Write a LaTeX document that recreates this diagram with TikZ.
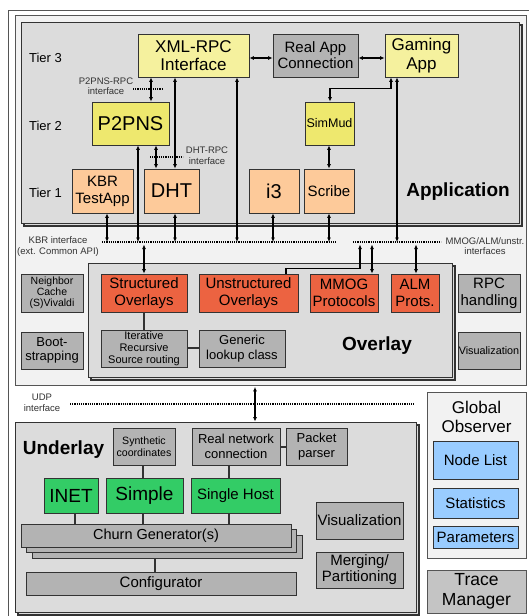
\documentclass[tikz,border=0pt]{standalone}
\usepackage{fontspec}
\setmainfont{Liberation Sans}
\usetikzlibrary{arrows.meta,calc}
\definecolor{linec}{HTML}{333333}
\definecolor{framec}{HTML}{555555}
\definecolor{framefill}{HTML}{F2F2F2}
\definecolor{regfill}{HTML}{DCDCDC}
\definecolor{boxgray}{HTML}{B3B3B3}
\definecolor{tracegray}{HTML}{C4C4C4}
\definecolor{ylight}{HTML}{F5F19E}
\definecolor{ystrong}{HTML}{EEE86E}
\definecolor{orlight}{HTML}{FDCA9A}
\definecolor{orred}{HTML}{EC6341}
\definecolor{greenb}{HTML}{33CC66}
\definecolor{blueb}{HTML}{99CCFF}
\definecolor{txtgray}{HTML}{333333}
\newcommand\myfs[2]{\fontsize{#1}{#2}\selectfont}
\tikzset{
  bx/.style={draw=linec, line width=0.8pt, inner sep=0pt, align=center, text=black},
  gbox/.style={bx, fill=boxgray},
  ybox/.style={bx, fill=ylight},
  yybox/.style={bx, fill=ystrong},
  obox/.style={bx, fill=orlight},
  rbox/.style={bx, fill=orred},
  grbox/.style={bx, fill=greenb},
  bbox/.style={bx, fill=blueb},
  region/.style={draw=linec, line width=0.9pt, fill=regfill, inner sep=0pt},
  shadowbox/.style={draw=linec, line width=1.2pt, fill=regfill},
  tipA/.tip={Latex[length=4.5pt,width=4pt]},
  dbl/.style={tipA-tipA, line width=1.1pt},
  sgl/.style={-tipA, line width=1.1pt},
  conn/.style={line width=1.1pt, draw=linec},
  dotline/.style={line width=1.1pt, dash pattern=on 1.1pt off 1.1pt},
  lbl/.style={font={\myfs{9.5}{10.5}}, text=txtgray, align=center, inner sep=0pt},
  tier/.style={font={\myfs{13}{15}}, inner sep=0pt},
  big/.style={font={\bfseries\myfs{19}{21}}, inner sep=0pt},
}
\begin{document}
\begin{tikzpicture}[x=1pt,y=-1pt]
\useasboundingbox (0,0) rectangle (529,616);
\clip (0,0) rectangle (529,616);
% outer frame
\draw[draw=framec, fill=white, line width=0.8pt] (8,10) rectangle (560,650);
% application/overlay frame
\node[draw=framec, line width=0.8pt, fill=framefill, minimum width=511pt, minimum height=370pt, inner sep=0pt] (appframe) at (270.5,200) {};
% Application region
\draw[shadowbox] (24,25) rectangle (522,226);
\node[region, minimum width=498pt, minimum height=201pt] (app) at (270,122.5) {};
\node[big] (applbl) at (458,192) {Application};
\node[tier] (t3) at (45.5,58) {Tier 3};
\node[tier] (t2) at (45.5,126) {Tier 2};
\node[tier] (t1) at (45.5,193) {Tier 1};

\node[ybox, minimum width=111pt, minimum height=43pt, font={\myfs{17}{18}}] (xml) at (193.5,55.5) {XML-RPC\\Interface};
\node[gbox, minimum width=85pt, minimum height=43pt, font={\myfs{15}{16}}] (realapp) at (315.5,55.5) {Real App\\Connection};
\node[ybox, minimum width=73pt, minimum height=43pt, font={\myfs{17}{19}}] (gaming) at (421.5,55.5) {Gaming\\App};
\node[yybox, minimum width=77pt, minimum height=43pt, font={\myfs{20}{22}}] (p2pns) at (130.5,123.5) {P2PNS};
\node[yybox, minimum width=49pt, minimum height=43pt, font={\myfs{12.5}{14}}] (simmud) at (329.5,123.5) {SimMud};
\node[obox, minimum width=61pt, minimum height=44pt, font={\myfs{15}{17}}] (kbrtest) at (102.5,191) {KBR\\TestApp};
\node[obox, minimum width=55pt, minimum height=44pt, font={\myfs{20}{22}}] (dht) at (171.5,191) {DHT};
\node[obox, minimum width=50pt, minimum height=44pt, font={\myfs{20}{22}}] (i3) at (274,191) {i3};
\node[obox, minimum width=50pt, minimum height=44pt, font={\myfs{15}{17}}] (scribe) at (329,191) {Scribe};

\node[lbl] (p2pnsrpc) at (106,86) {P2PNS-RPC\\interface};
\node[lbl] (dhtrpc) at (207,155.5) {DHT-RPC\\interface};
\node[lbl] (kbrlbl) at (58,246.5) {KBR interface\\(ext. Common API)};
\node[lbl] (mmoglbl) at (485,246) {MMOG/ALM/unstr.\\interfaces};
\node[lbl] (udplbl) at (42,403) {UDP\\interface};

% interface dotted lines
\coordinate (p2a) at (133,89);
\coordinate (p2b) at (162,89);
\draw[dotline] (p2a) -- (p2b);
\coordinate (dha) at (150,157);
\coordinate (dhb) at (183,157);
\draw[dotline] (dha) -- (dhb);
\coordinate (kbrA) at (102,242);
\coordinate (kbrB) at (336,242);
\draw[dotline] (kbrA) -- (kbrB);
\coordinate (mmA) at (353,242);
\coordinate (mmB) at (441,242);
\draw[dotline] (mmA) -- (mmB);
\coordinate (udpA) at (70,404);
\coordinate (udpB) at (414,404);
\draw[dotline] (udpA) -- (udpB);

% Overlay region
\draw[shadowbox] (91,266) rectangle (455,380);
\node[region, minimum width=364pt, minimum height=114pt] (overlay) at (270,320) {};
\node[big] (overlaylbl) at (377,346) {Overlay};
\node[rbox, minimum width=86pt, minimum height=38pt, font={\myfs{15}{17}}] (struct) at (144,293) {Structured\\Overlays};
\node[rbox, minimum width=99pt, minimum height=38pt, font={\myfs{15}{17}}] (unstruct) at (248.5,293) {Unstructured\\Overlays};
\node[rbox, minimum width=68pt, minimum height=38pt, font={\myfs{15}{17}}] (mmog) at (344,293) {MMOG\\Protocols};
\node[rbox, minimum width=48pt, minimum height=38pt, font={\myfs{15}{17}}] (alm) at (415,293) {ALM\\Prots.};
\node[gbox, minimum width=86pt, minimum height=37pt, font={\myfs{11}{12}}] (iter) at (144,348.5) {Iterative\\Recursive\\Source routing};
\node[gbox, minimum width=86pt, minimum height=37pt, font={\myfs{13}{15}}] (generic) at (242,348.5) {Generic\\lookup class};

\node[gbox, minimum width=62pt, minimum height=38pt, font={\myfs{10.5}{11}}] (neigh) at (52,293) {Neighbor\\Cache\\(S)Vivaldi};
\node[gbox, minimum width=62pt, minimum height=37pt, font={\myfs{13}{14}}] (boot) at (52,350.5) {Boot-\\strapping};
\node[gbox, minimum width=62pt, minimum height=38pt, font={\myfs{15}{17}}] (rpc) at (489,293) {RPC\\handling};
\node[gbox, minimum width=62pt, minimum height=37pt, font={\myfs{10.8}{12}}] (visr) at (489,350.5) {Visualization};

% Underlay region
\draw[shadowbox] (18,425) rectangle (419,615);
\node[region, minimum width=401pt, minimum height=190pt] (underlay) at (215.5,517) {};
\node[big] (underlaylbl) at (63.5,450) {Underlay};
\node[gbox, minimum width=62pt, minimum height=37pt, font={\myfs{10.6}{12}}] (synth) at (144,446.5) {Synthetic\\coordinates};
\node[gbox, minimum width=88pt, minimum height=37pt, font={\myfs{13}{15}}] (realnet) at (236,446.5) {Real network\\connection};
\node[gbox, minimum width=61pt, minimum height=37pt, font={\myfs{13}{15}}] (packet) at (316.5,446.5) {Packet\\parser};
\node[grbox, minimum width=54pt, minimum height=35pt, font={\myfs{19}{21}}] (inet) at (71,495.5) {INET};
\node[grbox, minimum width=77pt, minimum height=35pt, font={\myfs{19}{21}}] (simple) at (144.5,495.5) {Simple};
\node[grbox, minimum width=89pt, minimum height=35pt, font={\myfs{15}{17}}] (single) at (235.5,495.5) {Single Host};
\node[gbox, minimum width=270pt, minimum height=23pt] (churn3) at (167,546.5) {};
\node[gbox, minimum width=270pt, minimum height=23pt] (churn2) at (161.5,541) {};
\node[gbox, minimum width=270pt, minimum height=23pt, font={\myfs{14.5}{16}}] (churn) at (156,535.5) {Churn Generator(s)};
\node[gbox, minimum width=270pt, minimum height=23pt, font={\myfs{15}{17}}] (config) at (161,583.5) {Configurator};
\node[gbox, minimum width=87pt, minimum height=37pt, font={\myfs{15}{17}}] (visu) at (359.5,520.5) {Visualization};
\node[gbox, minimum width=87pt, minimum height=36pt, font={\myfs{15}{16}}] (merge) at (359.5,570) {Merging/\\Partitioning};

% Global observer and trace manager
\node[draw=framec, line width=0.8pt, fill=framefill, minimum width=99pt, minimum height=166pt, inner sep=0pt] (globs) at (476.5,475) {};
\node[font={\myfs{17}{19}}, align=center, inner sep=0pt] (globslbl) at (476.5,416.5) {Global\\Observer};
\node[bbox, minimum width=85pt, minimum height=38pt, font={\myfs{15}{17}}] (nodelist) at (475.5,460) {Node List};
\node[bbox, minimum width=85pt, minimum height=30pt, font={\myfs{15}{17}}] (stats) at (475.5,503) {Statistics};
\node[bbox, minimum width=85pt, minimum height=22pt, font={\myfs{15}{17}}] (params) at (475.5,537) {Parameters};
\node[bx, draw=framec, fill=tracegray, minimum width=99pt, minimum height=43pt, font={\myfs{17.5}{20}}] (trace) at (476.5,591.5) {Trace\\Manager};

% connectors, application tier
\draw[dbl] (xml.east |- 0,58) -- (realapp.west |- 0,58);
\draw[dbl] (realapp.east |- 0,58) -- (gaming.west |- 0,58);
\draw[dbl] (xml.south -| 151,0) -- (p2pns.north -| 151,0);
\draw[dbl] (xml.south -| 175,0) -- (dht.north -| 175,0);
\draw[dbl] (xml.south -| 237,0) -- (kbrA -| 237,0);
\draw[dbl] (p2pns.south -| 156,0) -- (dht.north -| 156,0);
\draw[dbl] (p2pns.south -| 138,0) -- (kbrA -| 138,0);
\draw[dbl] (kbrtest.south -| 107,0) -- (kbrA -| 107,0);
\draw[dbl] (dht.south -| 175,0) -- (kbrA -| 175,0);
\draw[dbl] (i3.south -| 273,0) -- (kbrA -| 273,0);
\draw[dbl] (scribe.south -| 329,0) -- (kbrA -| 329,0);
\draw[dbl] (simmud.south -| 329,0) -- (scribe.north -| 329,0);
\draw[dbl] (simmud.north -| 330,0) -- ++(0,-13) -| (gaming.south -| 391,0);
\draw[dbl] (gaming.south -| 397,0) -- (mmA -| 397,0);

% connectors, overlay
\draw[dbl, shorten <=2.5pt] (kbrA -| 144,0) -- (struct.north -| 144,0);
\draw[sgl, shorten >=2.5pt] (unstruct.north -| 286,0) -- ++(0,-5) -| (mmA -| 360,0);
\draw[dbl, shorten <=2.5pt] (mmA -| 372,0) -- (mmog.north -| 372,0);
\draw[dbl, shorten <=2.5pt] (mmA -| 416,0) -- (alm.north -| 416,0);
\draw[conn] (struct.south) -- (iter.north);
\draw[conn] (iter.east |- 0,348) -- (generic.west |- 0,348);

% UDP
\draw[dbl, shorten <=1.5pt] (appframe.south -| 255,0) -- (underlay.north -| 255,0);

% connectors, underlay
\draw[conn] (synth.south -| 143,0) -- (simple.north -| 143,0);
\draw[conn] (realnet.south -| 229,0) -- (single.north -| 229,0);
\draw[conn] (realnet.east |- 0,447) -- (packet.west |- 0,447);
\draw[conn] (inet.south -| 75,0) -- (churn.north -| 75,0);
\draw[conn] (simple.south -| 143,0) -- (churn.north -| 143,0);
\draw[conn] (single.south -| 229,0) -- (churn.north -| 229,0);
\draw[conn] (churn3.south -| 155,0) -- (config.north -| 155,0);
\end{tikzpicture}
\end{document}
